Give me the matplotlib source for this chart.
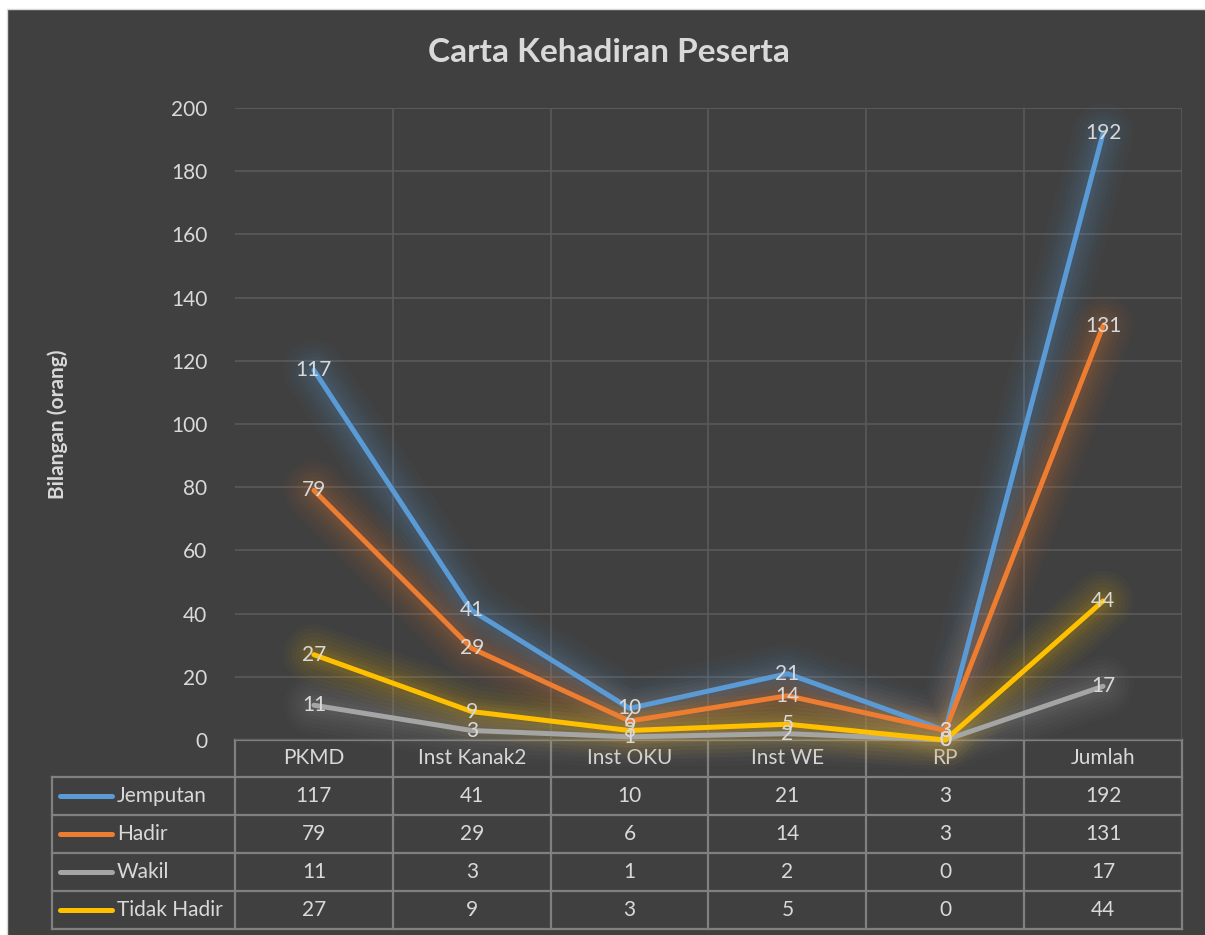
import matplotlib
matplotlib.use("Agg")
import matplotlib.pyplot as plt
import matplotlib.transforms as mtransforms
from matplotlib.patches import Rectangle

categories = ["PKMD", "Inst Kanak2", "Inst OKU", "Inst WE", "RP", "Jumlah"]
series_names = ["Jemputan", "Hadir", "Wakil", "Tidak Hadir"]
jemputan = [117, 41, 10, 21, 3, 192]
hadir = [79, 29, 6, 14, 3, 131]
wakil = [11, 3, 1, 2, 0, 17]
tidak_hadir = [27, 9, 3, 5, 0, 44]
series_values = [jemputan, hadir, wakil, tidak_hadir]
colors = ["#5B9BD5", "#ED7D31", "#A5A5A5", "#FFC000"]
yticks = [0, 20, 40, 60, 80, 100, 120, 140, 160, 180, 200]

title = "Carta Kehadiran Peserta"
ylabel = "Bilangan (orang)"

W, H = 1205, 935
BG = "#404040"
TXT = "#D9D9D9"
GRID = "#5A5A5A"
TBL = "#808080"
FONT = "Lato"

plt.rcParams["font.family"] = [FONT, "DejaVu Sans"]

fig = plt.figure(figsize=(W / 100, H / 100), dpi=100, facecolor="white")

# overlay axes in pixel coordinates
ov = fig.add_axes([0, 0, 1, 1], zorder=0)
ov.set_xlim(0, W)
ov.set_ylim(H, 0)
ov.axis("off")
ov.add_patch(Rectangle((7, 9), W, H, facecolor=BG, edgecolor="#D9D9D9", lw=1.0))

# plot axes
L, R, T, B = 235, 1182, 108, 740
ax = fig.add_axes([L / W, (H - B) / H, (R - L) / W, (B - T) / H], zorder=1)
ax.set_facecolor("none")
n = len(categories)
ax.set_xlim(-0.5, n - 0.5)
ax.set_ylim(0, 200)
for s in ax.spines.values():
    s.set_visible(False)
ax.set_yticks(yticks)
ax.set_yticklabels([str(v) for v in yticks], color=TXT, fontsize=15)
ax.tick_params(axis="y", length=0, pad=20)
ax.set_xticks([])
ax.yaxis.grid(True, color=GRID, lw=1.2)
ax.set_axisbelow(True)
for i in range(n):
    ax.axvline(i + 0.5, color=GRID, lw=1.2, zorder=0)
ax.axhline(200, color=GRID, lw=1.2, zorder=0)

x = list(range(n))
glow_layers = [(44, 0.025), (38, 0.03), (32, 0.035), (26, 0.04),
               (20, 0.045), (15, 0.05), (10, 0.06)]
for vals, c in zip(series_values, colors):
    for lw, a in glow_layers:
        ax.plot(x, vals, color=c, lw=lw, alpha=a, solid_capstyle="round",
                solid_joinstyle="round", clip_on=False, zorder=2)
for vals, c in zip(series_values, colors):
    ax.plot(x, vals, color=c, lw=3.6, solid_capstyle="round",
            solid_joinstyle="round", clip_on=False, zorder=3)
for vals in series_values:
    for xi, v in zip(x, vals):
        ax.text(xi, v, str(v), color=TXT, fontsize=15, ha="center",
                va="center", zorder=4, clip_on=False)

fig.text(58 / W, 1 - 424 / H, ylabel, color=TXT, fontsize=15,
         fontweight="bold", rotation=90, ha="center", va="center")

fig.text(609 / W, 1 - 52 / H, title, color=TXT, fontsize=24,
         fontweight="bold", ha="center", va="center")

# data table
tr = mtransforms.blended_transform_factory(ax.transData, ov.transData)
row_edges = [740, 777, 815, 853, 891, 929]
LEG_L = 52
lkw = dict(color=TBL, lw=1.6, zorder=5)
ov.plot([-0.5, n - 0.5], [row_edges[0]] * 2, transform=tr, **lkw)
for r in row_edges[1:]:
    ov.plot([LEG_L, R], [r, r], **lkw)
for i in range(n + 1):
    ov.plot([i - 0.5, i - 0.5], [row_edges[0], row_edges[-1]], transform=tr, **lkw)
ov.plot([LEG_L, LEG_L], [row_edges[1], row_edges[-1]], **lkw)

for i, cat in enumerate(categories):
    yc = (row_edges[0] + row_edges[1]) / 2
    ov.text(i, yc, cat, transform=tr, color=TXT, fontsize=15,
            ha="center", va="center", zorder=6)
for j, (name, vals, c) in enumerate(zip(series_names, series_values, colors)):
    yc = (row_edges[j + 1] + row_edges[j + 2]) / 2
    ov.plot([60, 112], [yc, yc], color=c, lw=3.6, solid_capstyle="round", zorder=6)
    ov.text(117, yc, name, color=TXT, fontsize=15, ha="left", va="center", zorder=6)
    for i, v in enumerate(vals):
        ov.text(i, yc, str(v), transform=tr, color=TXT, fontsize=15,
                ha="center", va="center", zorder=6)

fig.savefig("out.png", dpi=100, facecolor="white")
